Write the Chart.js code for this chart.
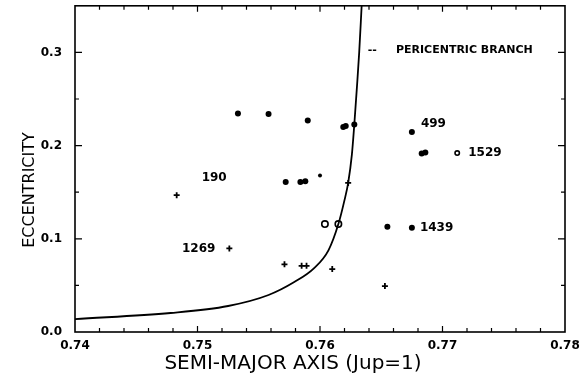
<!DOCTYPE html>
<html>
<head>
<meta charset="utf-8">
<script src="https://cdn.jsdelivr.net/npm/chart.js@4.4.1/dist/chart.umd.min.js"></script>
<style>
    html, body { margin: 0; padding: 0; background: #fff; }
    #wrap { width: 581px; height: 381px; position: relative; }
</style>
</head>
<body>
<div id="wrap"><canvas id="eccChart"></canvas></div>
<script>
// pericentric branch (semi-major axis vs eccentricity)
const branchA = [0.7400, 0.7478, 0.7525, 0.7558, 0.7579, 0.7595, 0.7607, 0.7615, 0.7620, 0.7623, 0.7626, 0.7628, 0.7630, 0.7632, 0.7634];
const branchE = [0.0139, 0.0204, 0.0279, 0.0397, 0.0536, 0.0683, 0.0879, 0.1158, 0.1415, 0.1600, 0.1900, 0.2226, 0.2600, 0.3000, 0.3500];

// filled dots
const dotA = [0.7533, 0.7558, 0.7590, 0.7619, 0.7621, 0.7628, 0.7675, 0.7683, 0.7686, 0.7572, 0.7584, 0.7588, 0.7655, 0.7675];
const dotE = [0.2344, 0.2340, 0.2270, 0.2200, 0.2210, 0.2226, 0.2147, 0.1915, 0.1925, 0.1610, 0.1610, 0.1618, 0.1129, 0.1118];

// small dots
const smallA = [0.7600];
const smallE = [0.1680];

// open circles
const ringA = [0.7604, 0.7615, 0.7712];
const ringE = [0.1158, 0.1158, 0.1920];

// crosses
const crossA = [0.7483, 0.7526, 0.7571, 0.7585, 0.7589, 0.7610, 0.7653, 0.7623];
const crossE = [0.1468, 0.0897, 0.0726, 0.0710, 0.0710, 0.0675, 0.0493, 0.1600];

// numbered objects: name, series, index in that series
const tagNames = ['190', '499', '1529', '1439', '1269'];
const tagSeries = ['dots', 'dots', 'rings', 'dots', 'crosses'];
const tagIndex = [9, 6, 2, 13, 1];

const xTicks = [0.74, 0.75, 0.76, 0.77, 0.78];
const yTicks = [0.0, 0.1, 0.2, 0.3];

const legendText = 'PERICENTRIC BRANCH';
const xTitle = 'SEMI-MAJOR AXIS (Jup=1)';
const yTitle = 'ECCENTRICITY';

const pairs = (xs, ys) => xs.map((x, i) => ({ x, y: ys[i] }));

const tickFont = { family: 'DejaVu Sans', size: 12, weight: 'bold' };

// offsets (px) of each number from its mark, and text alignment
const tagLayout = {
    '190': { dx: -59, dy: -4, align: 'right' },
    '499': { dx: 9, dy: -8, align: 'left' },
    '1529': { dx: 11, dy: 0, align: 'left' },
    '1439': { dx: 8, dy: 0, align: 'left' },
    '1269': { dx: -14, dy: 0, align: 'right' },
};

const noPad = (scale) => {
    scale.paddingLeft = 0;
    scale.paddingRight = 0;
    scale.paddingTop = 0;
    scale.paddingBottom = 0;
};

const framePlugin = {
    id: 'frame',
    afterDraw(chart) {
        const { ctx, chartArea: a, scales } = chart;
        const sx = scales.x, sy = scales.y;
        ctx.save();
        ctx.strokeStyle = '#000';
        ctx.lineWidth = 1.6;
        ctx.strokeRect(a.left, a.top, a.right - a.left, a.bottom - a.top);

        // inward ticks on all four sides
        ctx.lineWidth = 1.2;
        ctx.beginPath();
        for (let k = 1; k < 20; k++) {
            const v = 0.74 + k * 0.002;
            const px = sx.getPixelForValue(v);
            const len = k % 5 === 0 ? 6 : 4;
            ctx.moveTo(px, a.bottom); ctx.lineTo(px, a.bottom - len);
            ctx.moveTo(px, a.top); ctx.lineTo(px, a.top + len);
        }
        for (let k = 1; k < 7; k++) {
            const py = sy.getPixelForValue(k * 0.05);
            const len = k % 2 === 0 ? 7 : 4;
            ctx.moveTo(a.left, py); ctx.lineTo(a.left + len, py);
            ctx.moveTo(a.right, py); ctx.lineTo(a.right - len, py);
        }
        ctx.stroke();

        // numbers beside the marks
        const seriesData = { dots: chart.data.datasets[1].data, rings: chart.data.datasets[3].data, crosses: chart.data.datasets[4].data };
        ctx.fillStyle = '#000';
        ctx.font = 'bold 12px "DejaVu Sans"';
        ctx.textBaseline = 'middle';
        tagNames.forEach((name, i) => {
            const p = seriesData[tagSeries[i]][tagIndex[i]];
            const lay = tagLayout[name];
            ctx.textAlign = lay.align;
            ctx.fillText(name, sx.getPixelForValue(p.x) + lay.dx, sy.getPixelForValue(p.y) + lay.dy);
        });

        // key in the upper right
        const ky = sy.getPixelForValue(0.302);
        ctx.font = 'bold 11px "DejaVu Sans"';
        ctx.textAlign = 'left';
        ctx.fillText('--', sx.getPixelForValue(0.7639), ky);
        ctx.fillText(legendText, sx.getPixelForValue(0.7662), ky);

        // axis titles
        ctx.font = '20px "DejaVu Sans"';
        ctx.textAlign = 'center';
        ctx.fillText(xTitle, 293, 364);
        ctx.save();
        ctx.translate(30, 190);
        ctx.rotate(-Math.PI / 2);
        ctx.font = '16px "DejaVu Sans"';
        ctx.fillText(yTitle, 0, 0);
        ctx.restore();
        ctx.restore();
    },
};

new Chart(document.getElementById('eccChart'), {
    type: 'scatter',
    data: {
        datasets: [
            {
                type: 'line',
                data: pairs(branchA, branchE),
                borderColor: '#000',
                borderWidth: 1.8,
                pointRadius: 0,
                cubicInterpolationMode: 'monotone',
                fill: false,
            },
            {
                data: pairs(dotA, dotE),
                pointStyle: 'circle',
                pointRadius: 3,
                backgroundColor: '#000',
                borderColor: '#000',
                borderWidth: 0,
            },
            {
                data: pairs(smallA, smallE),
                pointStyle: 'circle',
                pointRadius: 2,
                backgroundColor: '#000',
                borderColor: '#000',
                borderWidth: 0,
            },
            {
                data: pairs(ringA, ringE),
                pointStyle: 'circle',
                pointRadius: (c) => (c.dataIndex === 2 ? 2.2 : 3.2),
                backgroundColor: '#fff',
                borderColor: '#000',
                borderWidth: 1.6,
            },
            {
                data: pairs(crossA, crossE),
                pointStyle: 'cross',
                pointRadius: 3,
                borderColor: '#000',
                borderWidth: 1.8,
            },
        ],
    },
    options: {
        responsive: true,
        maintainAspectRatio: false,
        animation: false,
        events: [],
        layout: { padding: { left: 0, right: 16, top: 5, bottom: 0 } },
        plugins: {
            legend: { display: false },
            tooltip: { enabled: false },
        },
        scales: {
            x: {
                type: 'linear',
                min: 0.74,
                max: 0.78,
                afterFit: (scale) => { scale.height = 49; noPad(scale); },
                afterBuildTicks: (scale) => { scale.ticks = xTicks.map((v) => ({ value: v })); },
                ticks: {
                    color: '#000',
                    font: tickFont,
                    padding: 7,
                    maxRotation: 0,
                    callback: (v) => Number(v).toFixed(2),
                },
                grid: { drawOnChartArea: false, drawTicks: false },
                border: { display: false },
            },
            y: {
                type: 'linear',
                min: 0,
                max: 0.35,
                afterFit: (scale) => { scale.width = 75; noPad(scale); },
                afterBuildTicks: (scale) => { scale.ticks = yTicks.map((v) => ({ value: v })); },
                ticks: {
                    color: '#000',
                    font: tickFont,
                    padding: 13,
                    callback: (v) => Number(v).toFixed(1),
                },
                grid: { drawOnChartArea: false, drawTicks: false },
                border: { display: false },
            },
        },
    },
    plugins: [framePlugin],
});
</script>
</body>
</html>
